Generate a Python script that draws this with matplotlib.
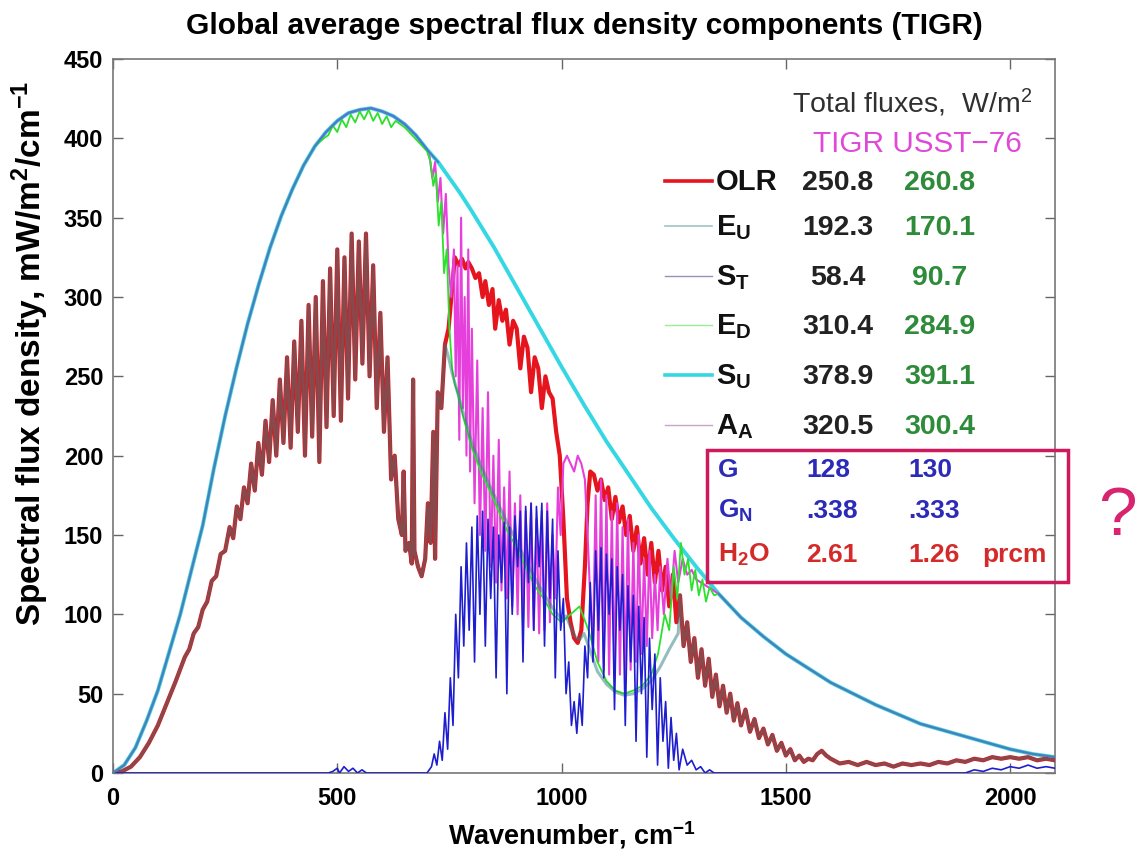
import numpy as np
import matplotlib
matplotlib.use("Agg")
import matplotlib.pyplot as plt
from matplotlib.lines import Line2D
from matplotlib.patches import Rectangle

plt.rcParams["font.family"] = "Liberation Sans"
plt.rcParams["mathtext.fontset"] = "custom"
plt.rcParams["mathtext.rm"] = "Liberation Sans"
plt.rcParams["mathtext.bf"] = "Liberation Sans:bold"
plt.rcParams["mathtext.it"] = "Liberation Sans:italic"

# spectral flux densities, (wavenumber cm-1, mW/m2/cm-1)
s_up = [(0, 0), (25, 5), (50, 16), (75, 33), (100, 52), (125, 76), (150, 100), (175, 128),
        (200, 156), (225, 192), (250, 225), (275, 255), (300, 283), (325, 308), (350, 331),
        (375, 351), (400, 368), (425, 383), (450, 395), (475, 404), (500, 411), (525, 416),
        (550, 418), (575, 419), (600, 417), (625, 414), (650, 409), (675, 402), (700, 393),
        (725, 385), (750, 375), (775, 365), (800, 354), (850, 331), (900, 306), (950, 281),
        (1000, 256), (1050, 232), (1100, 209), (1150, 188), (1200, 167), (1250, 148),
        (1300, 130), (1350, 113), (1400, 98), (1450, 86), (1500, 75), (1550, 66), (1600, 57),
        (1650, 50), (1700, 43), (1750, 37), (1800, 31), (1850, 27), (1900, 23), (1950, 19),
        (2000, 15), (2050, 12), (2100, 10)]

olr = [(0, 0), (20, 1), (40, 4), (60, 10), (80, 19), (100, 30), (120, 44), (140, 58),
       (160, 73), (170, 78), (180, 88), (190, 92), (200, 103), (210, 108), (220, 121),
       (230, 124), (240, 138), (250, 140), (260, 155), (268, 148), (276, 168), (284, 160),
       (292, 180), (300, 170), (308, 195), (316, 178), (324, 208), (332, 188), (340, 222),
       (348, 196), (356, 235), (364, 200), (372, 248), (380, 208), (388, 262), (396, 205),
       (404, 272), (412, 215), (420, 285), (428, 200), (436, 295), (444, 212), (452, 300),
       (460, 196), (468, 310), (476, 218), (484, 318), (492, 225), (500, 330), (508, 222),
       (516, 325), (524, 236), (532, 340), (540, 248), (548, 335), (556, 258), (564, 340),
       (572, 250), (580, 320), (588, 230), (596, 290), (604, 215), (612, 262), (620, 185),
       (628, 200), (636, 160), (644, 150), (648, 190), (652, 140), (660, 145), (666, 132),
       (669, 248), (672, 140), (680, 130), (688, 124), (696, 135), (702, 170), (708, 145),
       (714, 215), (718, 135), (724, 240), (732, 230), (740, 270), (748, 280), (756, 305),
       (762, 325), (770, 320), (778, 324), (786, 318), (792, 322), (800, 318), (808, 312),
       (816, 315), (824, 300), (830, 310), (838, 295), (846, 305), (852, 280), (860, 298),
       (868, 285), (876, 292), (884, 270), (892, 285), (900, 280), (908, 255), (916, 275),
       (924, 268), (932, 240), (940, 262), (948, 255), (956, 230), (964, 250), (972, 240),
       (980, 236), (988, 215), (996, 200), (1004, 160), (1012, 110), (1020, 95), (1028, 85),
       (1036, 82), (1044, 90), (1052, 130), (1058, 170), (1064, 190), (1072, 188),
       (1080, 178), (1088, 185), (1096, 172), (1104, 180), (1112, 160), (1120, 174),
       (1128, 158), (1136, 168), (1144, 150), (1152, 162), (1160, 140), (1168, 155),
       (1176, 132), (1184, 148), (1192, 125), (1200, 145), (1208, 120), (1216, 140),
       (1224, 115), (1232, 130), (1240, 105), (1248, 125), (1256, 95), (1264, 112),
       (1272, 80), (1280, 95), (1288, 70), (1296, 85), (1304, 60), (1312, 78), (1320, 55),
       (1328, 72), (1336, 48), (1344, 62), (1352, 42), (1360, 55), (1368, 38), (1376, 50),
       (1384, 33), (1392, 44), (1400, 30), (1410, 40), (1420, 26), (1430, 34), (1440, 22),
       (1450, 28), (1460, 18), (1470, 24), (1480, 14), (1490, 19), (1500, 11), (1510, 15),
       (1520, 8), (1530, 11), (1540, 7), (1550, 9), (1560, 8), (1570, 12), (1580, 14),
       (1590, 11), (1600, 9), (1620, 6), (1640, 7), (1660, 5), (1680, 7), (1700, 5),
       (1720, 6), (1740, 4), (1760, 6), (1780, 5), (1800, 6), (1820, 5), (1840, 7),
       (1860, 6), (1880, 8), (1900, 7), (1920, 9), (1940, 8), (1960, 10), (1980, 9),
       (2000, 10), (2020, 9), (2040, 10), (2060, 8), (2080, 9), (2100, 8)]

# upward atmospheric emission in the window (elsewhere it sits on the OLR)
e_up_window = [(748, 262), (756, 252), (764, 244), (772, 236), (780, 228), (790, 218),
               (800, 208), (820, 194), (840, 181), (860, 169), (880, 157), (900, 146),
               (920, 134), (940, 123), (960, 113), (980, 104), (1000, 97), (1010, 99),
               (1020, 92), (1030, 86), (1040, 84), (1050, 88), (1060, 80), (1080, 64),
               (1100, 56), (1120, 51), (1140, 49), (1160, 50), (1180, 53), (1200, 58),
               (1220, 67), (1240, 78), (1260, 88)]

s_trans = [(0, 0), (480, 0), (490, 1), (500, 3), (505, 0), (515, 4), (525, 1), (535, 3),
           (545, 0), (555, 2), (565, 0), (700, 0), (710, 4), (716, 12), (722, 5), (728, 20),
           (734, 8), (740, 38), (746, 15), (752, 60), (758, 30), (764, 100), (770, 60),
           (776, 130), (782, 80), (788, 145), (794, 90), (800, 155), (806, 70), (812, 162),
           (818, 100), (824, 165), (830, 80), (836, 160), (842, 110), (848, 155), (854, 60),
           (860, 150), (866, 120), (872, 158), (878, 50), (884, 155), (890, 100), (896, 162),
           (902, 130), (908, 165), (914, 70), (920, 168), (926, 120), (932, 170), (938, 90),
           (944, 168), (950, 130), (956, 170), (962, 80), (968, 165), (974, 110), (980, 160),
           (986, 60), (992, 140), (998, 90), (1004, 110), (1010, 50), (1016, 70), (1022, 30),
           (1028, 45), (1034, 25), (1040, 50), (1046, 30), (1052, 80), (1058, 60),
           (1064, 120), (1070, 70), (1076, 140), (1082, 90), (1088, 142), (1094, 60),
           (1100, 138), (1106, 100), (1112, 135), (1118, 40), (1124, 130), (1130, 90),
           (1136, 125), (1142, 30), (1148, 118), (1154, 70), (1160, 112), (1166, 20),
           (1172, 105), (1178, 50), (1184, 98), (1190, 10), (1196, 85), (1202, 40),
           (1208, 75), (1214, 5), (1220, 60), (1226, 20), (1232, 45), (1238, 3), (1244, 35),
           (1250, 8), (1256, 25), (1262, 2), (1270, 15), (1280, 5), (1290, 8), (1300, 2),
           (1310, 4), (1320, 0), (1330, 2), (1340, 0), (1900, 0), (1920, 2), (1940, 1),
           (1960, 3), (1980, 2), (2000, 4), (2020, 3), (2040, 5), (2060, 3), (2080, 4),
           (2100, 3)]

# downward emission where it departs from the surface curve
e_down_band = [(470, 400), (480, 402), (490, 408), (500, 404), (510, 412), (520, 407),
               (530, 415), (540, 410), (550, 417), (560, 412), (570, 418), (580, 411),
               (590, 416), (600, 409), (610, 414), (620, 407), (630, 411), (650, 407),
               (680, 398), (700, 392), (708, 385), (714, 370), (720, 378), (726, 345),
               (732, 360), (738, 315), (744, 330), (750, 280), (756, 255), (762, 245),
               (770, 238), (780, 225), (790, 215), (800, 205), (820, 190), (840, 178),
               (860, 165), (880, 152), (900, 142), (920, 130), (940, 118), (960, 110),
               (980, 100), (1000, 95), (1020, 100), (1040, 105), (1060, 90), (1080, 70),
               (1100, 58), (1120, 52), (1140, 50), (1160, 52), (1180, 55), (1200, 62),
               (1215, 75), (1230, 100), (1240, 90), (1250, 130), (1258, 110), (1266, 145),
               (1274, 125), (1282, 135), (1290, 115), (1298, 128), (1306, 112), (1314, 122),
               (1322, 108), (1330, 117), (1340, 112)]

# atmospheric absorption where it departs from the surface curve
a_atm_band = [(706, 388), (712, 375), (718, 385), (724, 360), (730, 375), (736, 340),
              (742, 365), (748, 320), (754, 300), (760, 330), (764, 250), (768, 320),
              (772, 210), (776, 350), (780, 230), (784, 300), (788, 200), (792, 330),
              (796, 190), (800, 280), (806, 170), (812, 260), (818, 150), (824, 230),
              (830, 140), (836, 240), (842, 130), (848, 200), (854, 120), (860, 210),
              (866, 115), (872, 180), (878, 110), (884, 190), (890, 105), (896, 170),
              (902, 100), (908, 175), (914, 95), (920, 165), (926, 92), (932, 170),
              (938, 90), (944, 160), (950, 88), (956, 165), (962, 90), (968, 170), (974, 95),
              (980, 150), (986, 110), (992, 180), (998, 150), (1004, 195), (1012, 200),
              (1020, 195), (1028, 190), (1036, 200), (1044, 195), (1052, 185), (1058, 150),
              (1064, 110), (1070, 80), (1076, 175), (1082, 70), (1088, 185), (1094, 65),
              (1100, 175), (1106, 62), (1112, 165), (1118, 60), (1124, 170), (1130, 62),
              (1136, 155), (1142, 60), (1148, 160), (1154, 65), (1160, 145), (1166, 70),
              (1172, 150), (1178, 75), (1184, 135), (1190, 80), (1196, 140), (1202, 85),
              (1208, 125), (1214, 90), (1220, 130), (1228, 100), (1236, 135), (1244, 110),
              (1252, 140), (1260, 120), (1270, 135), (1280, 125), (1290, 128), (1300, 122)]

legend_labels = ["OLR", r"$\mathbf{E_U}$", r"$\mathbf{S_T}$", r"$\mathbf{E_D}$",
                 r"$\mathbf{S_U}$", r"$\mathbf{A_A}$"]
tigr_totals = ["250.8", "192.3", "58.4", "310.4", "378.9", "320.5"]
usst_totals = ["260.8", "170.1", "90.7", "284.9", "391.1", "300.4"]
extra_labels = ["G", r"$\mathbf{G_N}$", r"$\mathbf{H_2O}$"]
extra_tigr = ["128", ".338", "2.61"]
extra_usst = ["130", ".333", "1.26"]


def arr(pairs):
    a = np.array(pairs, dtype=float)
    return a[:, 0], a[:, 1]


su_x, su_y = arr(s_up)
olr_x, olr_y = arr(olr)
st_x, st_y = arr(s_trans)
euw_x, euw_y = arr(e_up_window)
edb_x, edb_y = arr(e_down_band)
aab_x, aab_y = arr(a_atm_band)

m1, m2 = olr_x <= 740, olr_x >= 1264
eu_x = np.concatenate([olr_x[m1], euw_x, olr_x[m2]])
eu_y = np.concatenate([olr_y[m1], euw_y, olr_y[m2]])
k1, k2 = su_x <= 450, su_x >= 1350
ed_x = np.concatenate([su_x[k1], edb_x, su_x[k2]])
ed_y = np.concatenate([su_y[k1], edb_y, su_y[k2]])
k1, k2 = su_x <= 700, su_x >= 1330
aa_x = np.concatenate([su_x[k1], aab_x, su_x[k2]])
aa_y = np.concatenate([su_y[k1], aab_y, su_y[k2]])

C_OLR, C_EU, C_ST, C_ED, C_SU, C_AA = "#e5141d", "#2a7f7c", "#1e1ed0", "#2ee02e", "#35d8e2", "#e640dc"

W, H = 1142, 859
fig = plt.figure(figsize=(W / 100, H / 100), dpi=100)
ax = fig.add_axes([113 / W, 1 - 773 / H, (1055 - 113) / W, (773 - 59) / H])

ax.plot(su_x, su_y, color=C_SU, lw=2.8, zorder=2)
ax.plot(olr_x, olr_y, color=C_OLR, lw=3.0, zorder=3)
ax.plot(aa_x, aa_y, color=C_AA, lw=1.5, zorder=4)
ax.plot(ed_x, ed_y, color=C_ED, lw=1.3, zorder=5)
ax.plot(eu_x, eu_y, color=C_EU, lw=2.2, alpha=0.5, zorder=6)
ax.plot(st_x, st_y, color=C_ST, lw=1.2, zorder=7)
# surface curve where the atmosphere is opaque
for sel in (su_x <= 725, su_x >= 1330):
    ax.plot(su_x[sel], su_y[sel], color="#3f7fcc", lw=1.4, zorder=8)

ax.set_xlim(0, 2100)
ax.set_ylim(0, 450)
ax.set_xticks([0, 500, 1000, 1500, 2000])
ax.set_yticks(np.arange(0, 451, 50))
ax.tick_params(direction="in", length=7, width=1, color="#666666", labelsize=17,
               top=True, right=True, pad=7)
ax.tick_params(axis="x", pad=10)
for lab in ax.get_xticklabels() + ax.get_yticklabels():
    lab.set_fontweight("bold")
for sp in ax.spines.values():
    sp.set_color("#777777")
    sp.set_linewidth(1.2)


def fx(px):
    return px / W


def fy(py):
    return 1 - py / H


fig.text(fx(584), fy(26), "Global average spectral flux density components (TIGR)",
         ha="center", va="center", fontsize=21.5, fontweight="bold")
fig.text(fx(572), fy(835), r"Wavenumber, cm$^{\mathbf{-1}}$", ha="center", va="center",
         fontsize=19.5, fontweight="bold")
fig.text(fx(30), fy(353), r"Spectral flux density, mW/m$^{\mathbf{2}}$/cm$^{\mathbf{-1}}$",
         ha="center", va="center", rotation=90, fontsize=24, fontweight="bold")

fig.text(fx(792), fy(113), r"Total fluxes,  W/m$^2$", fontsize=20.5, color="#303030")
fig.text(fx(813), fy(152), "TIGR USST\u221276", fontsize=21.4, color="#e048d8")

row_y = [181, 226, 276, 325, 375, 425]
key_style = [(C_OLR, 2.6, 1.0), (C_EU, 1.2, 0.45), ("#554488", 1.0, 0.6),
             (C_ED, 1.0, 0.5), (C_SU, 2.6, 1.0), ("#a06aa0", 1.0, 0.6)]
for i, yy in enumerate(row_y):
    col, lw, al = key_style[i]
    fig.add_artist(Line2D([fx(665), fx(712)], [fy(yy), fy(yy)], color=col, lw=lw, alpha=al))
    fig.text(fx(716), fy(yy + 9), legend_labels[i], fontsize=21, fontweight="bold",
             va="baseline", color="#111111")
    fig.text(fx(838), fy(yy + 9), tigr_totals[i], fontsize=20.5, fontweight="bold",
             ha="center", va="baseline", color="#222222")
    fig.text(fx(940), fy(yy + 9), usst_totals[i], fontsize=20.5, fontweight="bold",
             ha="center", va="baseline", color="#2e8b3a")

extra_y = [477, 518, 562]
extra_col = ["#2b2bb8", "#2b2bb8", "#d42a2a"]
for i, yy in enumerate(extra_y):
    fig.text(fx(718), fy(yy), extra_labels[i], fontsize=19, fontweight="bold",
             va="baseline", color=extra_col[i])
    fig.text(fx(806), fy(yy), extra_tigr[i], fontsize=19, fontweight="bold",
             va="baseline", color=extra_col[i])
    fig.text(fx(908), fy(yy), extra_usst[i], fontsize=19, fontweight="bold",
             va="baseline", color=extra_col[i])
fig.text(fx(982), fy(562), "prcm", fontsize=19, fontweight="bold", va="baseline",
         color="#d42a2a")

fig.add_artist(Rectangle((fx(707), fy(582)), fx(1068) - fx(707), fy(450) - fy(582),
                         fill=False, edgecolor="#d0185c", lw=2.5, zorder=10))
fig.text(fx(1117), fy(517), "?", fontsize=50, ha="center", va="center", color="#d8246e")

fig.savefig("out.png", dpi=100)
